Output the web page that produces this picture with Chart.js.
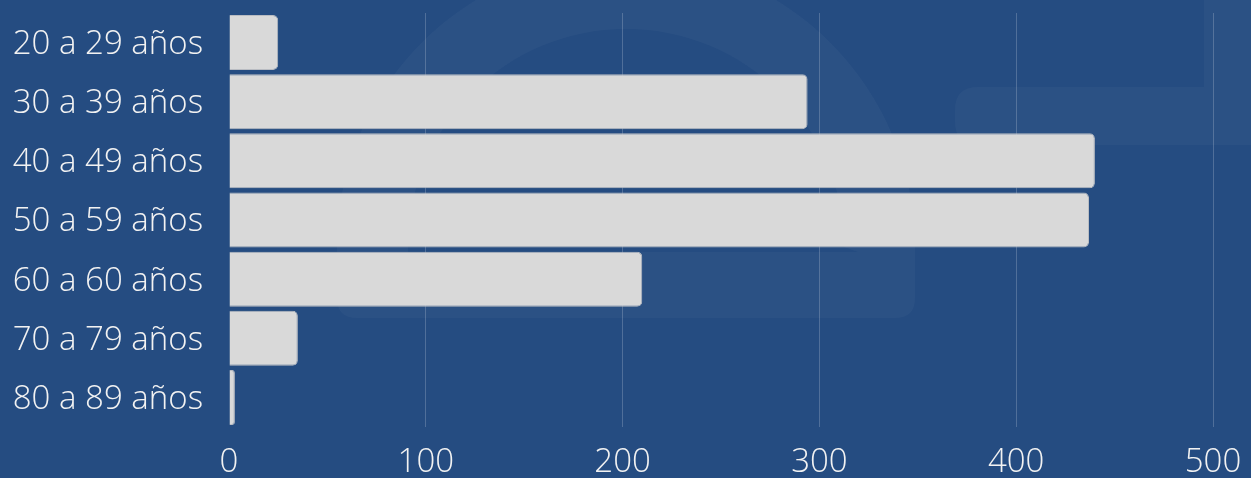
<!DOCTYPE html>
<html>
<head>
<meta charset="utf-8">
<script src="https://cdn.jsdelivr.net/npm/chart.js@4"></script>
<style>
  html, body { margin: 0; padding: 0; background: #254c81; }
  #wrap { width: 1251px; height: 478px; position: relative; }
</style>
</head>
<body>
<div id="wrap"><canvas id="c"></canvas></div>
<script>
const categories = ["20 a 29 años", "30 a 39 años", "40 a 49 años", "50 a 59 años", "60 a 60 años", "70 a 79 años", "80 a 89 años"];
const values = [25, 294, 440, 437, 210, 35, 3];
const xTicks = [0, 100, 200, 300, 400, 500];

const bgPlugin = {
  id: 'bg',
  beforeDraw(chart) {
    const ctx = chart.ctx;
    ctx.save();
    ctx.fillStyle = '#254c81';
    ctx.fillRect(0, 0, chart.width, chart.height);
    // faint watermark logo
    ctx.fillStyle = 'rgba(255,255,255,0.03)';
    ctx.beginPath();
    const cx = 626, cy = 247, R = 289, r = 218;
    ctx.moveTo(cx - R, cy);
    ctx.arc(cx, cy, R, Math.PI, 0, false);
    ctx.lineTo(cx + R, 298);
    ctx.quadraticCurveTo(cx + R, 318, cx + R - 20, 318);
    ctx.lineTo(cx - R + 20, 318);
    ctx.quadraticCurveTo(cx - R, 318, cx - R, 298);
    ctx.closePath();
    ctx.moveTo(cx - r, cy);
    ctx.lineTo(cx - r, 252);
    ctx.lineTo(cx + r + 14, 252);
    ctx.lineTo(cx + r, cy);
    ctx.arc(cx, cy, r, 0, Math.PI, true);
    ctx.closePath();
    ctx.fill('evenodd');
    ctx.beginPath();
    ctx.moveTo(1251, 87);
    ctx.lineTo(978, 87);
    ctx.quadraticCurveTo(955, 87, 955, 110);
    ctx.lineTo(955, 122);
    ctx.quadraticCurveTo(955, 145, 978, 145);
    ctx.lineTo(1251, 145);
    ctx.closePath();
    ctx.fill();
    ctx.fillRect(1204, 0, 47, 87);
    ctx.restore();
  }
};

new Chart(document.getElementById('c'), {
  type: 'bar',
  data: {
    labels: categories,
    datasets: [{
      data: values,
      backgroundColor: '#d9d9d9',
      borderColor: '#b9bcc2',
      borderWidth: 1,
      borderRadius: 5,
      borderSkipped: 'start',
      categoryPercentage: 1,
      barPercentage: 0.93
    }]
  },
  options: {
    indexAxis: 'y',
    responsive: true,
    maintainAspectRatio: false,
    animation: false,
    devicePixelRatio: 1,
    layout: { padding: { top: 13, right: 38, bottom: 0, left: 0 } },
    plugins: { legend: { display: false }, tooltip: { enabled: false } },
    scales: {
      x: {
        min: xTicks[0],
        max: xTicks[xTicks.length - 1],
        afterBuildTicks(scale) { scale.ticks = xTicks.map(v => ({ value: v })); },
        afterFit(scale) { scale.height = 51; scale.paddingLeft = 0; scale.paddingRight = 0; },
        grid: {
          drawTicks: false,
          color: ctx => ctx.tick && ctx.tick.value === 0 ? 'rgba(0,0,0,0)' : 'rgba(255,255,255,0.2)',
          lineWidth: 1
        },
        border: { display: false },
        ticks: {
          padding: 16,
          color: '#f2f2f2',
          font: { family: '"Open Sans"', weight: '300', size: 33 },
          maxRotation: 0
        }
      },
      y: {
        grid: { display: false, drawTicks: false },
        border: { display: false },
        afterFit(scale) { scale.width = 229; scale.paddingTop = 0; scale.paddingBottom = 0; },
        ticks: {
          padding: 26,
          labelOffset: 2,
          color: '#f2f2f2',
          font: { family: '"Open Sans"', weight: '300', size: 33 }
        }
      }
    }
  },
  plugins: [bgPlugin]
});
</script>
</body>
</html>
